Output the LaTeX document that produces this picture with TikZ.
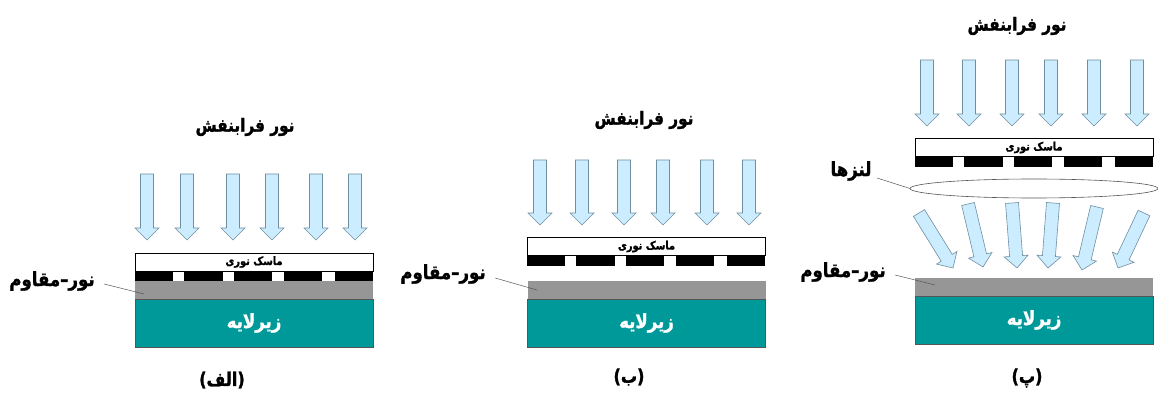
\documentclass[tikz,border=0pt]{standalone}
\usepackage{fontspec}
\usetikzlibrary{calc}
\TeXXeTstate=1
\newfontfamily\arabicfont[Script=Arabic,FakeStretch=0.85,BoldFeatures={FakeBold=1.3}]{DejaVu Sans}
\newcommand{\fa}[1]{\arabicfont\bfseries\beginR #1\endR}
\definecolor{beam}{HTML}{CCECFF}
\definecolor{beamline}{HTML}{6F8F9F}
\definecolor{subst}{HTML}{009999}
\definecolor{resist}{HTML}{969696}
\definecolor{edge}{HTML}{555555}
\tikzset{
  titletext/.style={font=\fontsize{18}{20}\selectfont},
  sidetext/.style={font=\fontsize{19.5}{22}\selectfont},
  capt/.style={font=\fontsize{19}{22}\selectfont},
  maskbox/.style={draw=black,line width=0.5pt,fill=white,minimum width=238pt,minimum height=18pt,inner sep=0pt,font=\fontsize{11.5}{13}\selectfont},
  substrate/.style={draw=edge,line width=0.7pt,fill=subst,text=white,minimum width=238pt,minimum height=48pt,inner sep=0pt,font=\fontsize{19.5}{22}\selectfont},
  resistbar/.style={fill=resist,minimum width=238pt,minimum height=18pt,inner sep=0pt},
  bar/.style={fill=black,draw=none},
  leader/.style={draw=edge,line width=0.5pt},
  beamarrow/.style={draw=beamline,line width=0.6pt,fill=beam,line join=miter},
}
% #1 tail centre, #2 tip
\newcommand{\beamarr}[2]{%
  \path (#1) coordinate (t) (#2) coordinate (p);
  \path ($(p)!12pt!(t)$) coordinate (h);
  \draw[beamarrow] ($(t)!6.5pt!90:(p)$) -- ($(h)!6.5pt!90:(p)$) -- ($(h)!12pt!90:(p)$) -- (p)
     -- ($(h)!12pt!-90:(p)$) -- ($(h)!6.5pt!-90:(p)$) -- ($(t)!6.5pt!-90:(p)$) -- cycle;}
% #1 left x, #2 top y, bars 10 high
\newcommand{\maskbars}[2]{%
  \foreach \a/\b in {0/38,49/88,99/137,149/187,200/238}
    \fill[bar] (#1+\a,#2) rectangle (#1+\b,#2+10);}
\begin{document}
\begin{tikzpicture}[x=1pt,y=-1pt]
\useasboundingbox (0,0) rectangle (1158,395);
\fill[white] (0,0) rectangle (1158,395);

% Panel A
\node[titletext] (ta) at (245,127) {\fa{نور فرابنفش}};
\foreach \x in {147,187,233,272,316,355}{\beamarr{\x,174}{\x,240}}
\node[maskbox] (ma) at (254,262) {\fa{ماسک نوری}};
\maskbars{135}{271}
\node[resistbar] (ra) at (254,290) {};
\node[substrate] (sa) at (254,323) {\fa{زیرلایه}};
\node[sidetext] (la) at (52,281) {\fa{نور–مقاوم}};
\coordinate (lae) at (144,294);
\draw[leader] (la.east) ++(6,3) -- (lae);
\node[capt] (ca) at (222,380) {\fa{(الف)}};

% Panel B
\node[titletext] (tb) at (644,120) {\fa{نور فرابنفش}};
\foreach \x in {540,582,624,663,707,749}{\beamarr{\x,160}{\x,225}}
\node[maskbox] (mb) at (646.5,246.5) {\fa{ماسک نوری}};
\maskbars{527}{256}
\node[resistbar] (rb) at (646.5,290) {};
\node[substrate] (sb) at (646.5,323) {\fa{زیرلایه}};
\node[sidetext] (lb) at (443,274) {\fa{نور–مقاوم}};
\coordinate (lbe) at (537,290);
\draw[leader] (lb.east) ++(6,4) -- (lbe);
\node[capt] (cb) at (629,377) {\fa{(ب)}};

% Panel C
\node[titletext] (tc) at (1017,26) {\fa{نور فرابنفش}};
\foreach \x in {927,969,1012,1051,1094,1137}{\beamarr{\x,60}{\x,126}}
\node[maskbox] (mc) at (1034,147.5) {\fa{ماسک نوری}};
\maskbars{915}{157}
\draw[edge,line width=0.6pt,fill=white] (1034,188.5) ellipse [x radius=124, y radius=9.5];
\coordinate (lens) at (910,188.5);
\node[sidetext] (lc) at (851,171) {\fa{لنزها}};
\draw[leader] (lc.east) ++(2,7) -- (lens);
\beamarr{919,213}{953,268}
\beamarr{968,204}{983,267}
\beamarr{1012,203}{1017,268}
\beamarr{1053,203}{1048,268}
\beamarr{1097,207}{1082,270}
\beamarr{1144,213}{1118,268}
\node[resistbar] (rc) at (1034,286.5) {};
\node[substrate] (sc) at (1034,320) {\fa{زیرلایه}};
\node[sidetext] (lr) at (843,272) {\fa{نور–مقاوم}};
\coordinate (lre) at (935,285);
\draw[leader] (lr.east) ++(6,3) -- (lre);
\node[capt] (cc) at (1027,378) {\fa{(پ)}};
\end{tikzpicture}
\end{document}
